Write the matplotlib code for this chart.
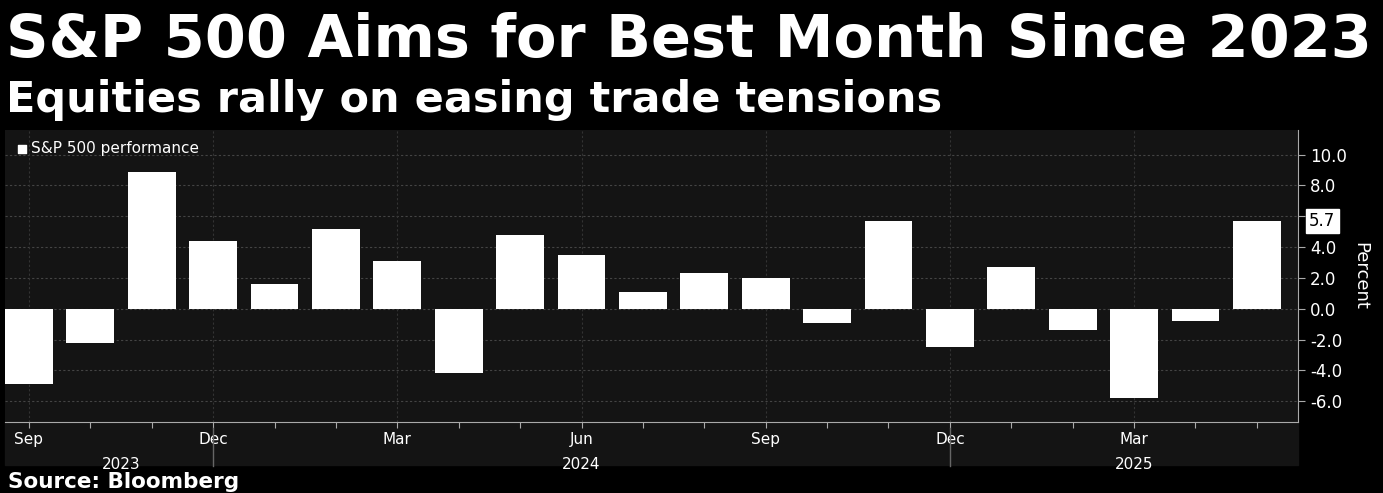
import numpy as np
import matplotlib.pyplot as plt

# monthly S&P 500 performance, Sep 2023 - May 2025
months = ['Sep', 'Oct', 'Nov', 'Dec', 'Jan', 'Feb', 'Mar', 'Apr', 'May', 'Jun', 'Jul',
          'Aug', 'Sep', 'Oct', 'Nov', 'Dec', 'Jan', 'Feb', 'Mar', 'Apr', 'May']
values = [-4.9, -2.2, 8.9, 4.4, 1.6, 5.2, 3.1, -4.2, 4.8, 3.5, 1.1,
          2.3, 2.0, -0.9, 5.7, -2.5, 2.7, -1.4, -5.8, -0.8, 5.7]
years = ['2023', '2024', '2025']
year_centers = [1.5, 9, 18]
year_breaks = [3, 15]
label_months = [0, 3, 6, 9, 12, 15, 18]
yticks = [-6, -4, -2, 0, 2, 4, 6, 8, 10]

W, H = 1383, 493
fig = plt.figure(figsize=(W / 100, H / 100), dpi=100, facecolor='black')
ax = fig.add_axes([5 / W, 1 - 422 / H, (1298 - 5) / W, (422 - 130) / H])
ax.set_facecolor('#141414')

x = np.arange(len(values))
ax.bar(x, values, width=0.78, color='white', zorder=3)

ax.set_xlim(-0.39, 20.67)
ax.set_ylim(-7.35, 11.6)

# grid
for v in yticks:
    ax.axhline(v, color='#444444', lw=0.8, ls=(0, (2, 2)), zorder=1)
for i in label_months:
    ax.axvline(i, color='#333333', lw=0.8, ls=(0, (2, 2)), zorder=1)

ax.yaxis.tick_right()
ax.set_yticks(yticks)
ax.set_yticklabels([f'{v:.1f}' for v in yticks], color='white', fontsize=12)
ax.tick_params(axis='y', colors='#aaaaaa', length=5, labelcolor='white')
ax.yaxis.set_label_position('right')
ax.set_ylabel('Percent', color='white', fontsize=13, rotation=270, labelpad=16)

ax.set_xticks(x)
ax.set_xticklabels([months[i] if i in label_months else '' for i in x], color='white', fontsize=11)
ax.tick_params(axis='x', colors='#aaaaaa', length=4, labelcolor='white')

for s in ['top', 'left']:
    ax.spines[s].set_visible(False)
ax.spines['bottom'].set_color('#aaaaaa')
ax.spines['right'].set_color('#aaaaaa')

# year row below
trans = ax.get_xaxis_transform()
for yr, c in zip(years, year_centers):
    ax.text(c, -0.12, yr, transform=trans, color='white', fontsize=11, ha='center', va='top')
for b in year_breaks:
    ax.plot([b, b], [-0.02, -0.15], transform=trans, color='#666666', lw=1, clip_on=False)
# panel background under x labels
fig.patches.append(plt.Rectangle((5 / W, 1 - 465 / H), (1298 - 5) / W, 43 / H,
                                 transform=fig.transFigure, color='#141414', zorder=-1))

# last value tag
ax.annotate(f'{values[-1]:.1f}', xy=(1.0, values[-1]), xycoords=('axes fraction', 'data'),
            xytext=(8, 0), textcoords='offset points', color='black', fontsize=12, va='center',
            bbox=dict(boxstyle='square,pad=0.2', fc='white', ec='white'))

# legend
ax.scatter([], [], marker='s', color='white', label='S&P 500 performance')
leg = ax.legend(loc='upper left', frameon=False, fontsize=11, handletextpad=0.2,
                markerscale=1.0, borderaxespad=0.3, handlelength=0.8)
for t in leg.get_texts():
    t.set_color('white')

fig.text(6 / W, 1 - 40 / H, 'S&P 500 Aims for Best Month Since 2023', color='white',
         fontsize=42.5, fontweight='bold', va='center', ha='left')
fig.text(6 / W, 1 - 100 / H, 'Equities rally on easing trade tensions', color='white',
         fontsize=31, fontweight='bold', va='center', ha='left')
fig.text(8 / W, 1 - 482 / H, 'Source: Bloomberg', color='white',
         fontsize=15.5, fontweight='bold', va='center', ha='left')

fig.savefig('out.png', dpi=100, facecolor='black')
